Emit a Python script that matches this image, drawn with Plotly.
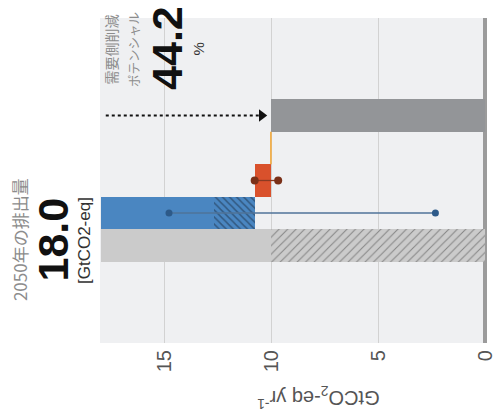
import plotly.graph_objects as go

# Emission levels along the waterfall (GtCO2-eq per year)
level_2050 = 18.0          # 2050 emissions before demand-side measures
reduction_share = 44.2     # demand-side mitigation potential, percent
level_blue_split = 12.71   # end of the solid part of the first reduction
level_after_blue = 10.80   # level after the first reduction
level_final = round(level_2050 * (1 - reduction_share / 100), 2)

# Bar positions on the category axis (bottom to top)
pos_total, pos_blue, pos_red, pos_final = 0, 1, 2, 4

# Uncertainty ranges for the two reductions (ends of the whiskers)
blue_range = [14.81, 2.34]
red_range = [10.80, 9.70]

# Value axis ticks
tick_vals = [15, 10, 5, 0]

BLUE = "#4a86c1"
RED = "#d9512c"
LIGHT_GRAY = "#cbcbcb"
DARK_GRAY = "#939598"

fig = go.Figure()

def hbar(pos, start, end, color, pattern=None):
    fig.add_trace(go.Bar(
        y=[pos], x=[start - end], base=[end], orientation="h", width=1.0,
        marker=dict(color=color, line=dict(width=0), pattern=pattern or {}),
        hoverinfo="skip",
    ))

# 2050 emissions: solid above the final level, hatched below it
hbar(pos_total, level_2050, level_final, LIGHT_GRAY)
hbar(pos_total, level_final, 0, LIGHT_GRAY,
     dict(shape="/", fgcolor="#404040", bgcolor=LIGHT_GRAY, size=6, solidity=0.17))

# First reduction: solid then hatched
hbar(pos_blue, level_2050, level_blue_split, BLUE)
hbar(pos_blue, level_blue_split, level_after_blue, BLUE,
     dict(shape="\\", fgcolor="#1a2b40", bgcolor=BLUE, size=5, solidity=0.3))

# Second reduction
hbar(pos_red, level_after_blue, level_final, RED)

# Remaining emissions
hbar(pos_final, level_final, 0, DARK_GRAY)

# Connector from the last reduction to the remaining bar
fig.add_trace(go.Scatter(
    x=[level_final, level_final], y=[pos_red + 0.5, pos_final - 0.5],
    mode="lines", line=dict(color="#f2a93b", width=1.6), hoverinfo="skip",
))

# Whiskers
fig.add_trace(go.Scatter(
    x=blue_range, y=[pos_blue, pos_blue], mode="lines+markers",
    line=dict(color="#4f7399", width=1.3),
    marker=dict(color="#2d5a89", size=7), hoverinfo="skip",
))
fig.add_trace(go.Scatter(
    x=red_range, y=[pos_red, pos_red], mode="lines+markers",
    line=dict(color="#8a3a22", width=1.3),
    marker=dict(color="#7a3018", size=8), hoverinfo="skip",
))

# Dotted arrow pointing at the remaining emissions
fig.add_trace(go.Scatter(
    x=[17.77, 10.55], y=[pos_final, pos_final], mode="lines",
    line=dict(color="#111111", width=2, dash="dot"), hoverinfo="skip",
))
fig.add_trace(go.Scatter(
    x=[10.47], y=[pos_final], mode="markers",
    marker=dict(symbol="triangle-right", color="#111111", size=11), hoverinfo="skip",
))

# Plot area in pixels, used to place the side texts
L, R, T, B = 100, 487.3, 18, 343
def px(xp):
    return (xp - L) / (R - L)
def py(yp):
    return (B - yp) / (B - T)

CJK = "Noto Sans CJK JP"
SANS = "Liberation Sans, Arial, sans-serif"

def label(xp, yp, text, size, color, family, angle=-90, bold=False):
    if bold:
        text = f"<b>{text}</b>"
    fig.add_annotation(
        x=px(xp), y=py(yp), xref="paper", yref="paper", text=text,
        showarrow=False, textangle=angle, xanchor="center", yanchor="middle",
        font=dict(size=size, color=color, family=family),
    )

label(19, 240, "2050年の排出量", 17, "#8c8c8c", CJK)
label(52, 239.5, f"{level_2050:.1f}", 43, "#111111", SANS, bold=True)
label(84, 241, "[GtCO2-eq]", 17, "#333333", SANS)

label(112, 49.5, "需要側削減", 14, "#8c8c8c", CJK)
label(133, 49, "ポテンシャル", 12.5, "#8c8c8c", CJK)
label(167, 48, f"{reduction_share:.1f}", 43, "#111111", SANS, bold=True)
label(199, 48.5, "%", 15, "#333333", SANS)

label(318, 398, "GtCO<sub>2</sub>-eq yr<sup>-1</sup>", 20, "#555555", SANS, angle=180)

fig.update_layout(
    width=493, height=412,
    margin=dict(l=L, r=493 - R, t=T, b=412 - B, autoexpand=False),
    plot_bgcolor="#eff0f2", paper_bgcolor="white",
    showlegend=False, barmode="overlay", bargap=0,
    xaxis=dict(
        range=[18.04, -0.075], tickvals=tick_vals, tickangle=-90,
        tickfont=dict(family=SANS, size=20, color="#555555"),
        ticklabeloverflow="allow", ticklabelstandoff=2, automargin=False,
        showgrid=True, gridcolor="#d2d2d2", gridwidth=1,
        zeroline=True, zerolinecolor="#9b9b9b", zerolinewidth=4,
        showline=False, ticks="", fixedrange=True,
    ),
    yaxis=dict(range=[-3, 7], visible=False, fixedrange=True),
)

fig.write_html("out.html")
